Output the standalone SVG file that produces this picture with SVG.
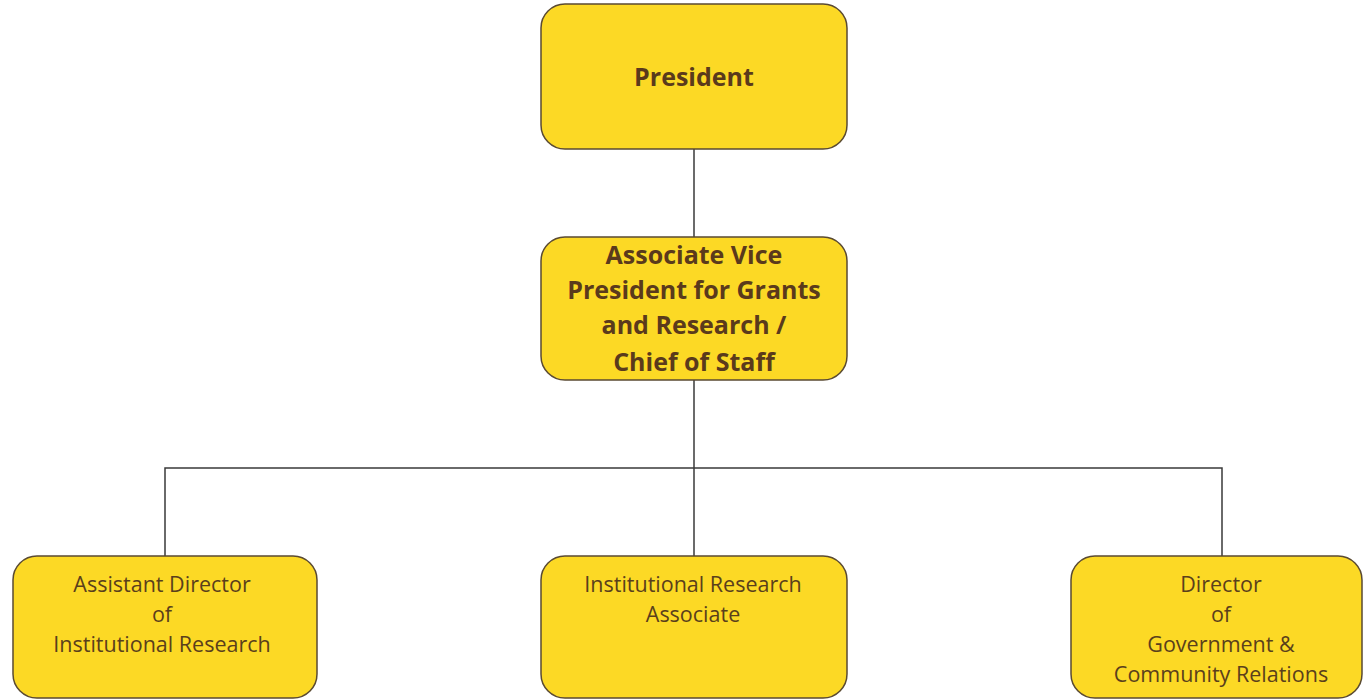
<svg xmlns="http://www.w3.org/2000/svg" width="1364" height="700" viewBox="0 0 1364 700">
<style>
.box{fill:#FCD925;stroke:#5a4a32;stroke-width:1.5}
.conn{stroke:#3a3a3a;stroke-width:1.5;fill:none}
.b{font-family:"Open Sans","Liberation Sans",Arial,sans-serif;font-weight:bold;font-size:25px;fill:#5a3a1c;text-anchor:middle}
.r{font-family:"Open Sans","Liberation Sans",Arial,sans-serif;font-size:21.5px;fill:#5a3f1c;text-anchor:middle}
</style>
<rect width="1364" height="700" fill="#ffffff"/>
<g id="connectors">
<line class="conn" x1="694" y1="149" x2="694" y2="237"/>
<line class="conn" x1="694" y1="380" x2="694" y2="556"/>
<polyline class="conn" points="165,556 165,468 1222,468 1222,556"/>
</g>
<g id="president">
<rect class="box" x="541" y="4" width="306" height="145" rx="24"/>
<text class="b" x="694" y="86">President</text>
</g>
<g id="avp">
<rect class="box" x="541" y="237" width="306" height="143" rx="24"/>
<text class="b" x="694" y="264">Associate Vice</text>
<text class="b" x="694" y="299">President for Grants</text>
<text class="b" x="694" y="334">and Research /</text>
<text class="b" x="694" y="371">Chief of Staff</text>
</g>
<g id="asst-director">
<rect class="box" x="13" y="556" width="304" height="142" rx="24"/>
<text class="r" x="162" y="592">Assistant Director</text>
<text class="r" x="162" y="622">of</text>
<text class="r" x="162" y="652">Institutional Research</text>
</g>
<g id="ir-associate">
<rect class="box" x="541" y="556" width="306" height="142" rx="24"/>
<text class="r" x="693" y="592">Institutional Research</text>
<text class="r" x="693" y="622">Associate</text>
</g>
<g id="director-gov">
<rect class="box" x="1071" y="556" width="291" height="142" rx="24"/>
<text class="r" x="1221" y="592">Director</text>
<text class="r" x="1221" y="622">of</text>
<text class="r" x="1221" y="652">Government &amp;</text>
<text class="r" x="1221" y="682">Community Relations</text>
</g>
</svg>
